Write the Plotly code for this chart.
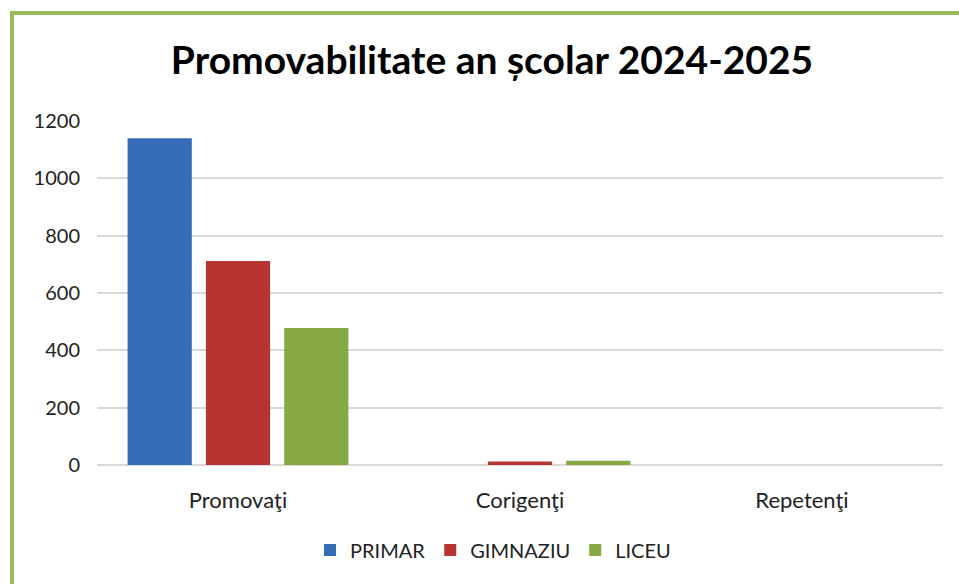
import plotly.graph_objects as go

categories = ["Promovaţi", "Corigenţi", "Repetenţi"]
primar = [1140, 0, 0]
gimnaziu = [712, 12, 0]
liceu = [478, 15, 0]
series_names = ["PRIMAR", "GIMNAZIU", "LICEU"]
y_ticks = [0, 200, 400, 600, 800, 1000, 1200]

W, H = 959, 584
L, R, T, B = 97, 16, 121, 119
pw, ph = W - L - R, H - T - B

def px(x):
    return (x - L) / pw

def py(y):
    return (H - B - y) / ph

colors = ["#356cb8", "#b63532", "#87a944"]
fig = go.Figure()
for name, vals, c in zip(series_names, [primar, gimnaziu, liceu], colors):
    fig.add_trace(go.Bar(x=categories, y=vals, name=name, marker=dict(color=c, line=dict(width=0))))

font_family = "Lato, 'Open Sans', sans-serif"
fig.update_layout(
    width=W, height=H,
    margin=dict(l=L, r=R, t=T, b=B),
    paper_bgcolor="white", plot_bgcolor="white",
    barmode="group", bargap=0.167, bargroupgap=0.18,
    font=dict(family=font_family, size=20, color="#222222"),
    title=dict(text="<b>Promovabilitate an școlar 2024-2025</b>", x=492 / W, xanchor="center",
               y=1 - 60 / H, yanchor="middle", font=dict(size=39, color="#000000", family=font_family)),
    legend=dict(orientation="h", x=px(493), xanchor="center", y=py(550), yanchor="middle",
                font=dict(size=20), itemwidth=30, traceorder="normal"),
    xaxis=dict(showline=False, ticks="", ticklabelstandoff=20, tickfont=dict(size=22)),
    yaxis=dict(range=[0, 1200], tickvals=y_ticks, showgrid=True, gridcolor="#d9d9d9", gridwidth=2,
               zeroline=True, zerolinecolor="#d9d9d9", zerolinewidth=2, ticks="",
               ticklabelstandoff=16, tickfont=dict(size=20)),
    shapes=[
        dict(type="line", xref="paper", yref="paper", x0=px(12), x1=px(12), y0=py(11), y1=py(600),
             line=dict(color="#9bbb59", width=4)),
        dict(type="line", xref="paper", yref="paper", x0=px(10), x1=px(980), y0=py(13), y1=py(13),
             line=dict(color="#9bbb59", width=4)),
    ],
)
fig.write_html("out.html", config={"displayModeBar": False},
               post_script="document.body.style.margin='0px';")
